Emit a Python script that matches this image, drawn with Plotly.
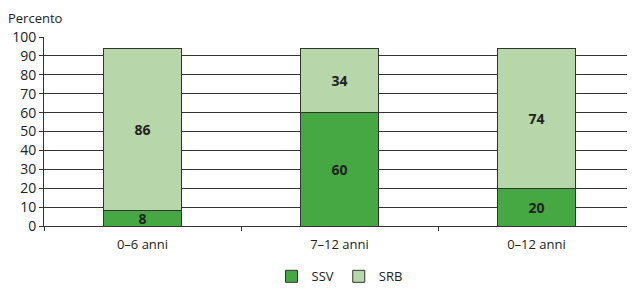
import plotly.graph_objects as go

categories = ["0\u20136 anni", "7\u201312 anni", "0\u201312 anni"]
ssv = [8, 60, 20]
srb = [86, 34, 74]
y_ticks = [0, 10, 20, 30, 40, 50, 60, 70, 80, 90, 100]

font_fam = "Open Sans, Lato, sans-serif"

fig = go.Figure()
fig.add_trace(go.Bar(
    x=categories, y=ssv, name="SSV",
    marker=dict(color="#45a843", line=dict(color="#333333", width=1)),
    text=[str(v) for v in ssv], textposition="inside", insidetextanchor="middle",
    textangle=0, constraintext="none",
    textfont=dict(family=font_fam, size=14, color="#222222", weight="bold"),
    width=0.4,
))
fig.add_trace(go.Bar(
    x=categories, y=srb, name="SRB",
    marker=dict(color="#b7d7aa", line=dict(color="#333333", width=1)),
    text=[str(v) for v in srb], textposition="inside", insidetextanchor="middle",
    textangle=0, constraintext="none",
    textfont=dict(family=font_fam, size=14, color="#222222", weight="bold"),
    width=0.4,
))

fig.update_layout(
    barmode="stack",
    width=627, height=281,
    margin=dict(l=36, r=0, t=29, b=63, autoexpand=False),
    plot_bgcolor="white", paper_bgcolor="white",
    font=dict(family=font_fam, size=13, color="#222222"),
    showlegend=True,
    legend=dict(orientation="h", x=0.5, xanchor="center", yref="container", y=0.045,
                yanchor="middle", font=dict(size=13), itemwidth=30, traceorder="normal"),
    annotations=[dict(text="Percento", xref="paper", yref="paper", x=-0.064, y=1.04,
                      xanchor="left", yanchor="bottom", showarrow=False,
                      font=dict(size=13, color="#222222"))],
    uniformtext=dict(minsize=12, mode="show"),
)
fig.update_yaxes(range=[0, 100], tickvals=y_ticks, showgrid=True, gridcolor="#333333",
                 gridwidth=1, showline=True, linecolor="#333333", linewidth=1,
                 ticks="outside", ticklen=4, tickcolor="#333333", zeroline=False,
                 tickfont=dict(size=14))
fig.update_xaxes(showline=True, linecolor="#333333", linewidth=1,
                 ticks="outside", ticklen=4, tickcolor="#333333",
                 tickson="boundaries", tickfont=dict(size=13), ticklabelstandoff=6)

fig.write_html("out.html")
